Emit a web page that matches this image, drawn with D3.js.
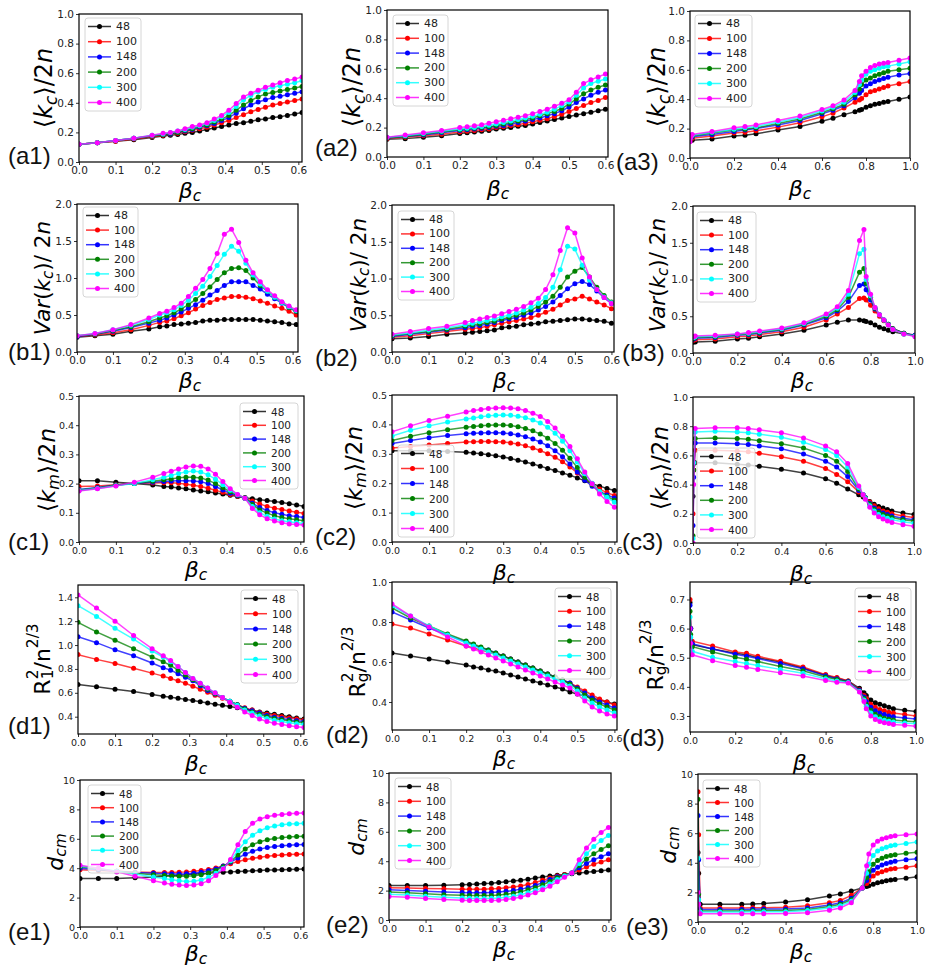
<!DOCTYPE html>
<html>
<head>
<meta charset="utf-8">
<title>Cluster statistics against beta_c</title>
<script src="https://d3js.org/d3.v7.min.js"></script>
<style>
    body { margin: 0; background: white; }
    svg text { font-family: "DejaVu Sans", sans-serif; }
    .panel-tag { font-family: "Liberation Sans", Arial, sans-serif; font-size: 24px; fill: #111; }
</style>
</head>
<body>
<div id="chart"></div>
<script>
// ---- data ----------------------------------------------------------------
var sizes  = ["48", "100", "148", "200", "300", "400"];
var colors = ["#000000", "#ff0000", "#0000ff", "#008000", "#00ffff", "#ff00ff"];

var beta1 = [0, 0.05, 0.1, 0.15, 0.2, 0.23, 0.25, 0.27, 0.29, 0.31, 0.33, 0.35, 0.37, 0.39, 0.41, 0.43, 0.45, 0.47, 0.49, 0.51, 0.53, 0.55, 0.57, 0.59, 0.61];
var beta2 = [0, 0.05, 0.1, 0.15, 0.2, 0.22, 0.24, 0.26, 0.28, 0.3, 0.32, 0.34, 0.36, 0.38, 0.4, 0.42, 0.44, 0.46, 0.48, 0.5, 0.52, 0.54, 0.56, 0.58, 0.6];
var beta3 = [0, 0.003, 0.01, 0.1, 0.2, 0.25, 0.3, 0.4, 0.5, 0.6, 0.65, 0.7, 0.75, 0.77, 0.78, 0.8, 0.82, 0.84, 0.86, 0.88, 0.9, 0.95, 1.0];

// <k_c>/2n
var kc1 = [
    [0.12,0.13,0.14,0.15,0.165, 0.175,0.18,0.185,0.195,0.2, 0.21,0.22,0.23,0.24,0.25, 0.26,0.265,0.275,0.285,0.29, 0.3,0.305,0.315,0.325,0.335],
    [0.12,0.13,0.14,0.155,0.17, 0.18,0.19,0.195,0.205,0.215, 0.225,0.235,0.25,0.265,0.28, 0.3,0.32,0.34,0.355,0.37, 0.385,0.395,0.405,0.415,0.425],
    [0.12,0.13,0.145,0.16,0.175, 0.185,0.19,0.2,0.21,0.22, 0.235,0.245,0.26,0.28,0.3, 0.33,0.36,0.385,0.405,0.42, 0.435,0.445,0.455,0.465,0.475],
    [0.12,0.13,0.145,0.16,0.175, 0.185,0.195,0.2,0.215,0.225, 0.24,0.25,0.27,0.29,0.315, 0.35,0.385,0.415,0.44,0.46, 0.47,0.48,0.49,0.5,0.51],
    [0.12,0.13,0.145,0.16,0.18, 0.19,0.2,0.21,0.22,0.235, 0.245,0.26,0.28,0.305,0.335, 0.375,0.42,0.45,0.475,0.49, 0.505,0.515,0.525,0.535,0.55],
    [0.12,0.13,0.145,0.16,0.18, 0.195,0.2,0.21,0.225,0.24, 0.25,0.265,0.29,0.315,0.35, 0.395,0.44,0.465,0.485,0.505, 0.52,0.535,0.55,0.56,0.575]
];
var kc2 = [
    [0.12,0.125,0.135,0.145,0.16, 0.165,0.17,0.175,0.18,0.19, 0.195,0.2,0.21,0.215,0.225, 0.235,0.245,0.255,0.265,0.275, 0.285,0.295,0.305,0.315,0.325],
    [0.125,0.135,0.145,0.155,0.17, 0.175,0.18,0.185,0.19,0.2, 0.205,0.215,0.22,0.23,0.24, 0.25,0.26,0.275,0.29,0.31, 0.33,0.35,0.37,0.385,0.405],
    [0.13,0.14,0.15,0.165,0.18, 0.185,0.19,0.195,0.2,0.21, 0.215,0.225,0.235,0.245,0.255, 0.265,0.28,0.295,0.315,0.34, 0.37,0.395,0.42,0.44,0.455],
    [0.13,0.14,0.155,0.17,0.185, 0.19,0.195,0.2,0.205,0.215, 0.225,0.235,0.245,0.255,0.265, 0.28,0.295,0.31,0.33,0.36, 0.395,0.43,0.455,0.475,0.49],
    [0.135,0.145,0.16,0.175,0.19, 0.195,0.2,0.208,0.216,0.225, 0.235,0.245,0.255,0.265,0.278, 0.29,0.305,0.325,0.35,0.375, 0.42,0.47,0.5,0.515,0.53],
    [0.135,0.15,0.165,0.18,0.2, 0.205,0.212,0.22,0.23,0.24, 0.25,0.26,0.27,0.28,0.295, 0.31,0.325,0.345,0.365,0.39, 0.44,0.5,0.525,0.545,0.565]
];
var kc3 = [
    [0.12,0.12,0.12,0.13,0.15, 0.155,0.165,0.19,0.215,0.25, 0.27,0.295,0.315,0.325,0.33, 0.345,0.355,0.365,0.37,0.38, 0.385,0.4,0.415],
    [0.13,0.135,0.135,0.15,0.17, 0.175,0.185,0.21,0.24,0.28, 0.305,0.34,0.38,0.395,0.405, 0.43,0.45,0.46,0.47,0.48, 0.49,0.505,0.52],
    [0.14,0.14,0.145,0.16,0.18, 0.19,0.2,0.225,0.255,0.3, 0.325,0.355,0.41,0.44,0.46, 0.49,0.505,0.52,0.53,0.54, 0.55,0.565,0.575],
    [0.15,0.15,0.15,0.17,0.19, 0.195,0.205,0.235,0.265,0.31, 0.335,0.365,0.43,0.47,0.5, 0.53,0.545,0.56,0.57,0.58, 0.59,0.6,0.61],
    [0.13,0.15,0.155,0.175,0.195, 0.205,0.215,0.245,0.275,0.32, 0.345,0.38,0.445,0.5,0.53, 0.57,0.59,0.6,0.61,0.62, 0.625,0.64,0.655],
    [0.11,0.14,0.16,0.18,0.205, 0.215,0.225,0.255,0.285,0.33, 0.355,0.395,0.46,0.52,0.56, 0.59,0.615,0.63,0.64,0.645, 0.65,0.665,0.68]
];

// Var(k_c)/2n
var var1 = [
    [0.2,0.22,0.24,0.28,0.31, 0.34,0.35,0.37,0.38,0.39, 0.4,0.42,0.43,0.43,0.44, 0.44,0.44,0.44,0.44,0.43, 0.42,0.41,0.4,0.38,0.37],
    [0.21,0.23,0.26,0.3,0.36, 0.4,0.42,0.45,0.49,0.53, 0.58,0.63,0.67,0.71,0.73, 0.75,0.75,0.74,0.72,0.69, 0.66,0.62,0.59,0.55,0.5],
    [0.21,0.24,0.28,0.33,0.39, 0.43,0.46,0.5,0.54,0.59, 0.64,0.7,0.77,0.83,0.9, 0.95,0.95,0.95,0.9,0.85, 0.78,0.72,0.66,0.6,0.55],
    [0.22,0.24,0.29,0.34,0.41, 0.46,0.49,0.53,0.58,0.64, 0.71,0.79,0.88,0.98,1.07, 1.13,1.14,1.1,1.0,0.9, 0.82,0.74,0.67,0.6,0.55],
    [0.22,0.25,0.3,0.36,0.44, 0.5,0.53,0.57,0.63,0.7, 0.79,0.89,1.02,1.17,1.32, 1.43,1.36,1.2,1.04,0.92, 0.82,0.74,0.67,0.61,0.56],
    [0.22,0.25,0.3,0.37,0.46, 0.52,0.55,0.6,0.66,0.75, 0.86,0.98,1.13,1.33,1.59, 1.66,1.48,1.24,1.07,0.95, 0.84,0.76,0.68,0.62,0.57]
];
var var2 = [
    [0.18,0.19,0.21,0.24,0.26, 0.27,0.28,0.29,0.3,0.33, 0.34,0.35,0.37,0.38,0.39, 0.41,0.42,0.43,0.44,0.45, 0.45,0.44,0.43,0.42,0.39],
    [0.2,0.22,0.25,0.28,0.31, 0.32,0.33,0.35,0.37,0.39, 0.41,0.43,0.45,0.47,0.5, 0.54,0.58,0.64,0.7,0.72, 0.76,0.72,0.68,0.64,0.59],
    [0.21,0.24,0.27,0.3,0.33, 0.35,0.36,0.38,0.4,0.43, 0.45,0.47,0.5,0.53,0.57, 0.62,0.68,0.77,0.86,0.93, 0.96,0.92,0.83,0.74,0.66],
    [0.22,0.25,0.28,0.31,0.35, 0.37,0.38,0.4,0.42,0.45, 0.47,0.5,0.53,0.57,0.62, 0.68,0.76,0.88,1.02,1.1, 1.15,1.02,0.88,0.77,0.68],
    [0.23,0.26,0.3,0.33,0.37, 0.39,0.41,0.43,0.45,0.48, 0.5,0.53,0.57,0.61,0.66, 0.74,0.88,1.12,1.44,1.4, 1.18,0.98,0.85,0.75,0.67],
    [0.24,0.28,0.32,0.35,0.4, 0.43,0.45,0.47,0.49,0.52, 0.55,0.58,0.62,0.67,0.73, 0.85,1.05,1.38,1.69,1.62, 1.28,1.02,0.85,0.74,0.66]
];
var var3 = [
    [0.15,0.15,0.15,0.16,0.19, 0.2,0.22,0.26,0.31,0.38, 0.42,0.45,0.45,0.44,0.43, 0.41,0.38,0.35,0.33,0.31, 0.29,0.26,0.24],
    [0.17,0.18,0.18,0.19,0.22, 0.23,0.25,0.29,0.35,0.45, 0.53,0.62,0.74,0.75,0.72, 0.65,0.57,0.5,0.44,0.38, 0.33,0.27,0.24],
    [0.19,0.19,0.2,0.21,0.24, 0.25,0.27,0.31,0.38,0.48, 0.57,0.7,0.92,0.94,0.86, 0.72,0.6,0.52,0.45,0.39, 0.33,0.27,0.24],
    [0.2,0.2,0.21,0.22,0.25, 0.26,0.28,0.32,0.39,0.5, 0.59,0.76,1.1,1.15,0.95, 0.76,0.61,0.52,0.45,0.39, 0.33,0.27,0.23],
    [0.21,0.21,0.22,0.23,0.26, 0.27,0.29,0.33,0.4,0.52, 0.61,0.8,1.35,1.41,1.0, 0.78,0.62,0.52,0.45,0.38, 0.32,0.26,0.23],
    [0.22,0.22,0.23,0.24,0.26, 0.28,0.3,0.34,0.41,0.53, 0.63,0.85,1.53,1.68,1.04, 0.8,0.62,0.52,0.45,0.38, 0.32,0.26,0.22]
];

// <k_m>/2n
var km1 = [
    [0.21,0.21,0.205,0.2,0.195, 0.19,0.188,0.185,0.182,0.178, 0.175,0.172,0.168,0.164,0.16, 0.156,0.152,0.148,0.145,0.142, 0.139,0.135,0.131,0.127,0.122],
    [0.19,0.192,0.196,0.2,0.202, 0.203,0.203,0.201,0.198,0.194, 0.19,0.184,0.177,0.17,0.163, 0.157,0.15,0.14,0.13,0.122, 0.116,0.111,0.106,0.102,0.098],
    [0.18,0.187,0.195,0.2,0.205, 0.207,0.209,0.21,0.21,0.209, 0.206,0.2,0.19,0.178,0.167, 0.158,0.15,0.133,0.118,0.108, 0.1,0.095,0.09,0.087,0.084],
    [0.178,0.185,0.195,0.2,0.208, 0.213,0.216,0.22,0.222,0.222, 0.219,0.212,0.2,0.186,0.172, 0.16,0.15,0.128,0.11,0.099, 0.09,0.084,0.08,0.076,0.073],
    [0.176,0.183,0.193,0.2,0.213, 0.222,0.228,0.235,0.24,0.243, 0.24,0.23,0.215,0.196,0.177, 0.162,0.15,0.122,0.1,0.088, 0.079,0.073,0.069,0.066,0.063],
    [0.175,0.182,0.192,0.205,0.222, 0.235,0.242,0.25,0.257,0.26, 0.259,0.25,0.232,0.207,0.182, 0.163,0.15,0.115,0.093,0.08, 0.072,0.066,0.062,0.06,0.058]
];
var km2 = [
    [0.31,0.31,0.31,0.308,0.305, 0.303,0.3,0.297,0.293,0.289, 0.284,0.278,0.272,0.265,0.258, 0.25,0.243,0.235,0.227,0.218, 0.208,0.198,0.19,0.182,0.175],
    [0.32,0.325,0.33,0.335,0.34, 0.341,0.342,0.342,0.341,0.34, 0.337,0.333,0.327,0.32,0.311, 0.3,0.288,0.273,0.255,0.235, 0.213,0.195,0.18,0.168,0.158],
    [0.335,0.345,0.355,0.362,0.368, 0.37,0.371,0.372,0.372,0.371, 0.368,0.364,0.358,0.35,0.34, 0.327,0.31,0.29,0.265,0.238, 0.21,0.19,0.172,0.16,0.15],
    [0.345,0.36,0.372,0.382,0.39, 0.393,0.395,0.397,0.398,0.398, 0.396,0.392,0.386,0.378,0.367, 0.353,0.335,0.312,0.285,0.253, 0.22,0.195,0.172,0.155,0.142],
    [0.36,0.38,0.395,0.408,0.418, 0.422,0.426,0.429,0.431,0.432, 0.431,0.428,0.423,0.415,0.405, 0.39,0.37,0.343,0.31,0.272, 0.232,0.2,0.172,0.152,0.135],
    [0.375,0.395,0.413,0.428,0.442, 0.447,0.451,0.454,0.456,0.457, 0.456,0.453,0.447,0.438,0.427, 0.41,0.388,0.36,0.325,0.283, 0.238,0.198,0.163,0.138,0.118]
];
var km3 = [
    [0.32,0.5,0.55,0.55,0.54, 0.535,0.525,0.505,0.48,0.44, 0.41,0.37,0.33,0.315,0.305, 0.285,0.265,0.25,0.24,0.23, 0.22,0.205,0.195],
    [0.2,0.5,0.635,0.635,0.63, 0.625,0.615,0.59,0.56,0.51, 0.47,0.42,0.35,0.325,0.31, 0.28,0.255,0.235,0.22,0.21, 0.2,0.185,0.175],
    [0.12,0.45,0.685,0.685,0.68, 0.675,0.665,0.645,0.61,0.56, 0.52,0.455,0.36,0.33,0.31, 0.27,0.24,0.22,0.205,0.195, 0.185,0.17,0.16],
    [0.05,0.5,0.715,0.72,0.715, 0.71,0.7,0.68,0.65,0.6, 0.56,0.49,0.37,0.33,0.31, 0.265,0.23,0.21,0.195,0.185, 0.175,0.16,0.15],
    [0.03,0.55,0.76,0.765,0.76, 0.755,0.745,0.725,0.69,0.64, 0.6,0.52,0.38,0.33,0.305, 0.255,0.22,0.195,0.18,0.17, 0.16,0.145,0.135],
    [0.0,0.4,0.785,0.79,0.79, 0.785,0.775,0.755,0.72,0.665, 0.625,0.545,0.39,0.33,0.3, 0.245,0.205,0.18,0.165,0.15, 0.14,0.125,0.115]
];

// R^2 / n^(2/3)
var rg1 = [
    [0.67,0.65,0.63,0.61,0.585, 0.572,0.563,0.555,0.545,0.535, 0.525,0.515,0.505,0.495,0.485, 0.475,0.465,0.455,0.44,0.43, 0.42,0.41,0.4,0.39,0.38],
    [0.92,0.88,0.845,0.805,0.765, 0.74,0.72,0.7,0.68,0.655, 0.63,0.605,0.58,0.555,0.525, 0.5,0.475,0.455,0.435,0.42, 0.41,0.4,0.39,0.38,0.372],
    [1.07,1.02,0.96,0.91,0.85, 0.81,0.79,0.76,0.73,0.7, 0.66,0.62,0.59,0.56,0.53, 0.5,0.47,0.45,0.43,0.41, 0.395,0.385,0.375,0.365,0.36],
    [1.19,1.11,1.04,0.97,0.9, 0.86,0.83,0.79,0.75,0.71, 0.67,0.63,0.595,0.56,0.53, 0.5,0.465,0.44,0.42,0.4, 0.385,0.375,0.365,0.355,0.35],
    [1.33,1.24,1.14,1.05,0.95, 0.9,0.86,0.82,0.77,0.72, 0.68,0.64,0.6,0.56,0.53, 0.495,0.455,0.43,0.405,0.385, 0.37,0.36,0.35,0.34,0.335],
    [1.42,1.31,1.2,1.08,0.97, 0.91,0.87,0.82,0.77,0.72, 0.68,0.64,0.6,0.56,0.52, 0.48,0.44,0.41,0.38,0.36, 0.345,0.335,0.325,0.315,0.31]
];
var rg2 = [
    [0.645,0.63,0.615,0.6,0.585, 0.575,0.57,0.56,0.555,0.545, 0.535,0.525,0.515,0.505,0.495, 0.485,0.475,0.465,0.45,0.44, 0.43,0.42,0.41,0.4,0.39],
    [0.79,0.77,0.74,0.71,0.68, 0.67,0.66,0.65,0.64,0.63, 0.615,0.6,0.585,0.57,0.555, 0.54,0.525,0.51,0.495,0.475, 0.455,0.435,0.415,0.4,0.385],
    [0.85,0.81,0.77,0.735,0.7, 0.685,0.67,0.66,0.645,0.63, 0.615,0.6,0.585,0.57,0.555, 0.54,0.525,0.51,0.495,0.47, 0.445,0.42,0.4,0.385,0.37],
    [0.87,0.82,0.78,0.74,0.705, 0.69,0.675,0.66,0.645,0.63, 0.615,0.6,0.585,0.57,0.555, 0.54,0.525,0.51,0.49,0.465, 0.435,0.41,0.39,0.375,0.36],
    [0.88,0.83,0.78,0.735,0.695, 0.68,0.665,0.65,0.635,0.62, 0.605,0.59,0.575,0.56,0.545, 0.53,0.515,0.5,0.48,0.455, 0.42,0.395,0.375,0.36,0.345],
    [0.89,0.83,0.775,0.725,0.68, 0.665,0.65,0.635,0.62,0.605, 0.59,0.575,0.56,0.545,0.53, 0.515,0.5,0.485,0.47,0.44, 0.405,0.375,0.355,0.34,0.33]
];
var rg3 = [
    [0.69,0.6,0.545,0.53,0.515, 0.51,0.5,0.485,0.465,0.44, 0.43,0.42,0.395,0.38,0.37, 0.355,0.345,0.34,0.335,0.33, 0.325,0.32,0.315],
    [0.7,0.6,0.557,0.54,0.52, 0.515,0.505,0.488,0.468,0.442, 0.432,0.42,0.39,0.37,0.36, 0.34,0.33,0.322,0.318,0.313, 0.31,0.305,0.3],
    [0.68,0.6,0.548,0.53,0.512, 0.505,0.497,0.48,0.462,0.438, 0.428,0.418,0.388,0.365,0.35, 0.33,0.318,0.31,0.305,0.3, 0.297,0.293,0.29],
    [0.66,0.58,0.538,0.52,0.502, 0.495,0.487,0.47,0.455,0.434, 0.425,0.417,0.386,0.36,0.34, 0.32,0.306,0.298,0.292,0.289, 0.286,0.283,0.28],
    [0.64,0.57,0.522,0.502,0.487, 0.48,0.473,0.46,0.447,0.428, 0.42,0.415,0.384,0.355,0.333, 0.31,0.297,0.29,0.285,0.282, 0.279,0.276,0.273],
    [0.6,0.55,0.51,0.49,0.473, 0.467,0.46,0.448,0.437,0.422, 0.416,0.413,0.382,0.35,0.325, 0.3,0.288,0.281,0.277,0.274, 0.271,0.268,0.265]
];

// d_cm
var dcm1 = [
    [3.3,3.3,3.3,3.35,3.4, 3.45,3.5,3.52,3.55,3.6, 3.62,3.65,3.7,3.72,3.75, 3.78,3.8,3.82,3.85,3.87, 3.88,3.9,3.92,3.93,3.95],
    [3.9,3.85,3.8,3.75,3.7, 3.7,3.7,3.72,3.75,3.8, 3.85,3.92,4.02,4.15,4.3, 4.45,4.57,4.67,4.75,4.82, 4.87,4.9,4.93,4.95,4.97],
    [4.0,3.9,3.8,3.7,3.65, 3.62,3.6,3.6,3.62,3.66, 3.72,3.82,3.95,4.15,4.4, 4.7,4.95,5.15,5.3,5.4, 5.47,5.52,5.56,5.6,5.62],
    [4.1,3.95,3.8,3.65,3.55, 3.5,3.47,3.45,3.45,3.48, 3.55,3.68,3.85,4.1,4.45, 4.9,5.3,5.6,5.8,5.93, 6.02,6.08,6.12,6.15,6.17],
    [4.15,4.0,3.8,3.6,3.4, 3.3,3.22,3.15,3.1,3.12, 3.2,3.38,3.65,4.0,4.5, 5.2,5.8,6.25,6.55,6.75, 6.87,6.95,7.0,7.03,7.05],
    [4.2,4.0,3.75,3.45,3.15, 3.0,2.9,2.85,2.82,2.85, 2.95,3.15,3.5,3.95,4.6, 5.6,6.5,7.05,7.35,7.5, 7.6,7.65,7.7,7.73,7.75]
];
var dcm2 = [
    [2.35,2.35,2.35,2.37,2.4, 2.42,2.45,2.48,2.5,2.55, 2.6,2.65,2.7,2.77,2.85, 2.92,3.0,3.05,3.1,3.15, 3.2,3.25,3.3,3.35,3.4],
    [2.2,2.18,2.15,2.12,2.1, 2.1,2.1,2.1,2.12,2.15, 2.2,2.25,2.32,2.42,2.55, 2.7,2.85,3.0,3.1,3.2, 3.4,3.6,3.8,3.95,4.1],
    [2.05,2.0,1.95,1.9,1.87, 1.86,1.85,1.85,1.87,1.9, 1.95,2.0,2.1,2.2,2.35, 2.55,2.75,2.95,3.05,3.2, 3.55,3.85,4.1,4.3,4.5],
    [1.9,1.85,1.78,1.72,1.68, 1.67,1.66,1.66,1.67,1.7, 1.75,1.82,1.92,2.05,2.2, 2.4,2.62,2.87,3.05,3.2, 3.7,4.15,4.5,4.8,5.05],
    [1.75,1.7,1.62,1.55,1.5, 1.48,1.47,1.47,1.48,1.5, 1.55,1.62,1.72,1.85,2.0, 2.2,2.45,2.75,3.0,3.2, 3.85,4.5,5.0,5.4,5.75],
    [1.6,1.55,1.47,1.4,1.35, 1.33,1.32,1.32,1.33,1.35, 1.4,1.47,1.57,1.7,1.85, 2.05,2.3,2.6,2.9,3.2, 4.1,4.9,5.5,5.95,6.3]
];
var dcm3 = [
    [4.7,3.3,1.2,1.2,1.2, 1.22,1.25,1.35,1.5,1.75, 1.9,2.1,2.3,2.4,2.45, 2.55,2.65,2.72,2.78,2.83, 2.88,2.95,3.05],
    [8.8,5.9,0.95,0.95,0.95, 0.96,0.97,1.0,1.1,1.3, 1.45,1.8,2.3,2.6,2.8, 3.1,3.3,3.4,3.5,3.58, 3.62,3.7,3.8],
    [7.2,4.2,0.85,0.85,0.85, 0.86,0.87,0.88,0.95,1.15, 1.3,1.6,2.3,2.8,3.1, 3.5,3.7,3.85,3.95,4.03, 4.1,4.2,4.28],
    [8.3,1.9,0.75,0.75,0.75, 0.76,0.77,0.78,0.85,1.05, 1.2,1.5,2.3,3.0,3.4, 3.9,4.15,4.3,4.42,4.5, 4.55,4.65,4.72],
    [4.3,1.5,0.68,0.68,0.68, 0.69,0.69,0.7,0.78,0.95, 1.1,1.4,2.3,3.3,3.9, 4.5,4.8,4.95,5.05,5.15, 5.2,5.3,5.4],
    [2.0,1.2,0.55,0.55,0.55, 0.56,0.56,0.57,0.63,0.8, 0.95,1.3,2.3,3.8,4.6, 5.2,5.45,5.6,5.7,5.78, 5.82,5.9,5.95]
];

// tick labels
var xTicks06 = [0, 0.1, 0.2, 0.3, 0.4, 0.5, 0.6];
var xTicks10 = [0, 0.2, 0.4, 0.6, 0.8, 1.0];
var yTicks10 = [0, 0.2, 0.4, 0.6, 0.8, 1.0];
var yTicks20 = [0, 0.5, 1.0, 1.5, 2.0];
var yTicks05 = [0, 0.1, 0.2, 0.3, 0.4, 0.5];
var yTicksD1 = [0.4, 0.6, 0.8, 1.0, 1.2, 1.4];
var yTicksD2 = [0.4, 0.6, 0.8, 1.0];
var yTicksD3 = [0.3, 0.4, 0.5, 0.6, 0.7];
var yTicksE  = [0, 2, 4, 6, 8, 10];

// ---- labels (pieces: [text, italic, "sub"/"sup", stack back over previous]) ----
var labKc  = [["\u27e8"], ["k", 1], ["c", 1, "sub"], ["\u27e9/2"], ["n", 1]];
var labVar = [["Var", 1], ["("], ["k", 1], ["c", 1, "sub"], [")/ 2"], ["n", 1]];
var labKm  = [["\u27e8"], ["k", 1], ["m", 1, "sub"], ["\u27e9/2"], ["n", 1]];
var labR1  = [["R"], ["2", 0, "sup"], ["1", 0, "sub", 1], ["/"], ["n"], ["2/3", 0, "sup"]];
var labRg  = [["R"], ["2", 0, "sup"], ["g", 0, "sub", 1], ["/"], ["n"], ["2/3", 0, "sup"]];
var labDcm = [["d", 1], ["cm", 1, "sub"]];
var labBeta = [["\u03b2", 1], ["c", 1, "sub"]];

// ---- layout ----
// box: [left, top, right, bottom]; leg: [left, top, width, height]; ys: y-label font size
var panels = [
    { tag: "(a1)", tagAt: [8, 164],   x: beta1, y: kc1, xd: [0, 0.61],  yd: [0, 1], xt: xTicks06, yt: yTicks10, box: [79, 14, 302, 162],  leg: [85, 18, 56, 93],   yl: labKc, ys: 24, ylAt: [44, 88],   xlAt: [190, 190], row: 0 },
    { tag: "(a2)", tagAt: [315, 156], x: beta2, y: kc2, xd: [0, 0.607], yd: [0, 1], xt: xTicks06, yt: yTicks10, box: [387, 10, 608, 157], leg: [393, 15, 55, 91],  yl: labKc, ys: 24, ylAt: [352, 87],  xlAt: [498, 188], row: 0 },
    { tag: "(a3)", tagAt: [616, 170], x: beta3, y: kc3, xd: [0, 1],     yd: [0, 1], xt: xTicks10, yt: yTicks10, box: [690, 11, 910, 158], leg: [695, 15, 57, 92],  yl: labKc, ys: 24, ylAt: [657, 87],  xlAt: [800, 188], row: 0 },

    { tag: "(b1)", tagAt: [8, 360],   x: beta1, y: var1, xd: [0, 0.615], yd: [0, 2], xt: xTicks06, yt: yTicks20, box: [77, 204, 298, 352],  leg: [83, 207, 55, 90],  yl: labVar, ys: 21.5, ylAt: [42, 278],  xlAt: [190, 380], row: 1 },
    { tag: "(b2)", tagAt: [315, 366], x: beta2, y: var2, xd: [0, 0.607], yd: [0, 2], xt: xTicks06, yt: yTicks20, box: [392, 205, 614, 352], leg: [398, 211, 56, 89], yl: labVar, ys: 21.5, ylAt: [358, 275], xlAt: [504, 380], row: 1 },
    { tag: "(b3)", tagAt: [622, 361], x: beta3, y: var3, xd: [0, 1],     yd: [0, 2], xt: xTicks10, yt: yTicks20, box: [693, 206, 915, 353], leg: [697, 212, 59, 90], yl: labVar, ys: 21.5, ylAt: [657, 275], xlAt: [802, 380], row: 1 },

    { tag: "(c1)", tagAt: [8, 550],   x: beta1, y: km1, xd: [0, 0.61],  yd: [0, 0.5], xt: xTicks06, yt: yTicks05, box: [79, 396, 304, 542],  leg: [240, 403, 58, 86], yl: labKm, ys: 23, ylAt: [47, 470],  xlAt: [196, 569], row: 2 },
    { tag: "(c2)", tagAt: [315, 545], x: beta2, y: km2, xd: [0, 0.607], yd: [0, 0.5], xt: xTicks06, yt: yTicks05, box: [392, 395, 617, 542], leg: [398, 445, 56, 92], yl: labKm, ys: 23, ylAt: [354, 468], xlAt: [504, 572], row: 2 },
    { tag: "(c3)", tagAt: [622, 550], x: beta3, y: km3, xd: [0, 1],     yd: [0, 1],   xt: xTicks10, yt: yTicks10, box: [693, 397, 914, 543], leg: [697, 448, 58, 90], yl: labKm, ys: 23, ylAt: [660, 468], xlAt: [801, 573], row: 2 },

    { tag: "(d1)", tagAt: [8, 734],   x: beta1, y: rg1, xd: [0, 0.61],  yd: [0.255, 1.503], xt: xTicks06, yt: yTicksD1, box: [78, 585, 304, 734],  leg: [241, 590, 57, 93], yl: labR1, ys: 22, ylAt: [42, 659],  xlAt: [196, 763], row: 3 },
    { tag: "(d2)", tagAt: [326, 743], x: beta2, y: rg2, xd: [0, 0.607], yd: [0.26, 1.0],    xt: xTicks06, yt: yTicksD2, box: [392, 582, 617, 730], leg: [555, 588, 56, 91], yl: labRg, ys: 22, ylAt: [357, 662], xlAt: [504, 758], row: 3 },
    { tag: "(d3)", tagAt: [622, 746], x: beta3, y: rg3, xd: [0, 1],     yd: [0.245, 0.76],  xt: xTicks10, yt: yTicksD3, box: [690, 582, 916, 732], leg: [855, 588, 56, 92], yl: labRg, ys: 22, ylAt: [655, 655], xlAt: [804, 762], row: 3 },

    { tag: "(e1)", tagAt: [8, 940],   x: beta1, y: dcm1, xd: [0, 0.61],  yd: [0, 10], xt: xTicks06, yt: yTicksE, box: [80, 780, 304, 927],  leg: [88, 785, 53, 88],  yl: labDcm, ys: 22, ylAt: [55, 852],  xlAt: [196, 953], row: 4 },
    { tag: "(e2)", tagAt: [326, 933], x: beta2, y: dcm2, xd: [0, 0.607], yd: [0, 10], xt: xTicks06, yt: yTicksE, box: [389, 773, 611, 920], leg: [395, 778, 56, 91], yl: labDcm, ys: 22, ylAt: [356, 837], xlAt: [504, 949], row: 4 },
    { tag: "(e3)", tagAt: [626, 935], x: beta3, y: dcm3, xd: [0, 1],     yd: [0, 10], xt: xTicks10, yt: yTicksE, box: [698, 774, 917, 922], leg: [703, 780, 57, 87], yl: labDcm, ys: 22, ylAt: [668, 845], xlAt: [801, 951], row: 4 }
];

// ---- drawing ----
var svg = d3.select("#chart").append("svg")
    .attr("width", 926)
    .attr("height", 970)
    .style("background", "white");

function mathText(parent, x, y, size, rotate, parts)
{
    var t = parent.append("text")
        .attr("transform", "translate(" + x + "," + y + ")" + (rotate ? " rotate(-90)" : ""))
        .attr("text-anchor", "middle")
        .attr("dominant-baseline", "central")
        .style("font-size", size + "px")
        .style("fill", "#000");
    var shift = 0;
    parts.forEach(function (p) {
        var target = p[2] === "sub" ? 0.28 * size : (p[2] === "sup" ? -0.42 * size : 0);
        var ts = t.append("tspan").text(p[0])
            .attr("dy", target - shift)
            .style("font-style", p[1] ? "italic" : "normal");
        if (p[2])
            ts.style("font-size", (size * 0.7) + "px");
        if (p[3])
            ts.attr("dx", -size * 0.7 * 0.636);
        shift = target;
    });
}

function drawPanel(p, k)
{
    var b = p.box;
    var small = p.row >= 2;
    var xs = d3.scaleLinear().domain(p.xd).range([b[0], b[2]]);
    var ys = d3.scaleLinear().domain(p.yd).range([b[3], b[1]]);
    var g = svg.append("g");

    g.append("clipPath").attr("id", "clip" + k)
        .append("rect")
        .attr("x", b[0]).attr("y", b[1])
        .attr("width", b[2] - b[0]).attr("height", b[3] - b[1]);

    var plot = g.append("g").attr("clip-path", "url(#clip" + k + ")");
    var line = d3.line().x(function (d) { return xs(d[0]); }).y(function (d) { return ys(d[1]); });

    p.y.forEach(function (vals, i) {
        var pts = p.x.map(function (xv, j) { return [xv, vals[j]]; })
                     .filter(function (d) { return d[1] !== undefined; });
        plot.append("path")
            .datum(pts)
            .attr("d", line)
            .attr("fill", "none")
            .attr("stroke", colors[i])
            .attr("stroke-width", 1.5)
            .attr("stroke-opacity", 0.75);
        plot.selectAll(null)
            .data(pts)
            .enter().append("circle")
            .attr("cx", function (d) { return xs(d[0]); })
            .attr("cy", function (d) { return ys(d[1]); })
            .attr("r", 2.5)
            .attr("fill", colors[i]);
    });

    var tickFont = small ? 9.5 : 10.5;
    var yFmt = p.yd[1] >= 10 ? d3.format("d") : d3.format(".1f");

    var xa = g.append("g")
        .attr("transform", "translate(0," + b[3] + ")")
        .call(d3.axisBottom(xs).tickValues(p.xt).tickFormat(d3.format(".1f")).tickSize(3).tickPadding(2));
    var ya = g.append("g")
        .attr("transform", "translate(" + b[0] + ",0)")
        .call(d3.axisLeft(ys).tickValues(p.yt).tickFormat(yFmt).tickSize(3).tickPadding(2));
    [xa, ya].forEach(function (a) {
        a.select(".domain").remove();
        a.selectAll("text")
            .style("font-family", "DejaVu Sans")
            .style("font-size", tickFont + "px")
            .attr("fill", "#222");
        a.selectAll("line").attr("stroke", "#000").attr("stroke-width", 0.8);
    });

    g.append("rect")
        .attr("x", b[0]).attr("y", b[1])
        .attr("width", b[2] - b[0]).attr("height", b[3] - b[1])
        .attr("fill", "none")
        .attr("stroke", "#000")
        .attr("stroke-width", 1.2);

    // legend
    var L = p.leg;
    var lg = g.append("g").attr("transform", "translate(" + L[0] + "," + L[1] + ")");
    lg.append("rect")
        .attr("width", L[2]).attr("height", L[3])
        .attr("rx", 3)
        .attr("fill", "white").attr("fill-opacity", 0.8)
        .attr("stroke", "#cccccc").attr("stroke-width", 0.8);
    var step = (L[3] - 17) / 5;
    sizes.forEach(function (s, i) {
        var yy = 8.5 + i * step;
        lg.append("line")
            .attr("x1", 3).attr("x2", 26).attr("y1", yy).attr("y2", yy)
            .attr("stroke", colors[i]).attr("stroke-width", 1.5).attr("stroke-opacity", 0.8);
        lg.append("circle").attr("cx", 14.5).attr("cy", yy).attr("r", 2.5).attr("fill", colors[i]);
        lg.append("text")
            .attr("x", 31).attr("y", yy)
            .attr("dominant-baseline", "central")
            .style("font-size", (small ? 10.5 : 11) + "px")
            .style("fill", "#222")
            .text(s);
    });

    mathText(g, p.ylAt[0], p.ylAt[1], p.ys, true, p.yl);
    mathText(g, p.xlAt[0], p.xlAt[1], 22, false, labBeta);

    g.append("text")
        .attr("class", "panel-tag")
        .attr("x", p.tagAt[0]).attr("y", p.tagAt[1])
        .text(p.tag);
}

panels.forEach(drawPanel);
</script>
</body>
</html>
